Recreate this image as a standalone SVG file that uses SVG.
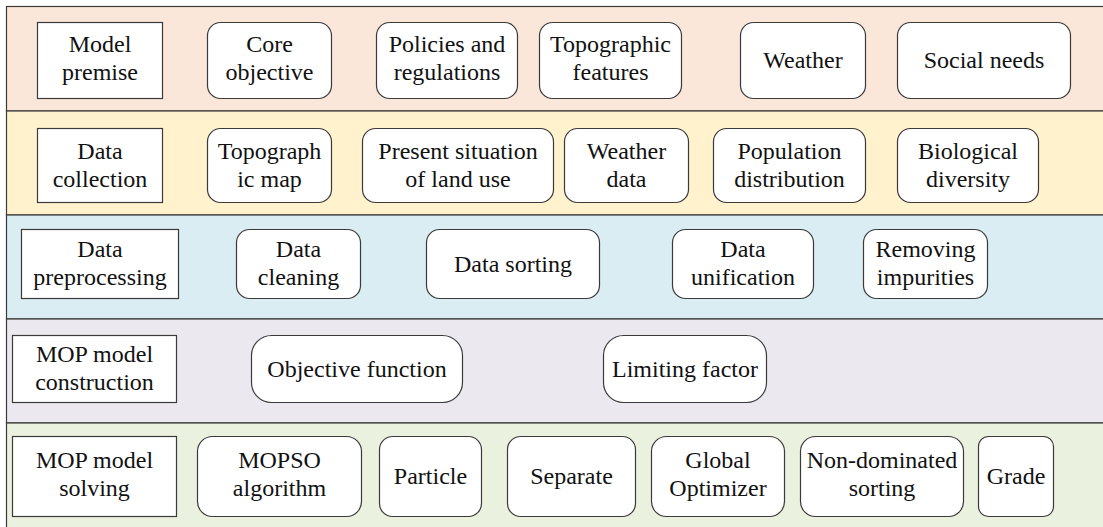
<svg xmlns="http://www.w3.org/2000/svg" width="1103" height="527" viewBox="0 0 1103 527">
  <style>
    .band { stroke: #3a3a3a; stroke-width: 1.2; }
    .box { fill: #ffffff; stroke: #3a3a3a; stroke-width: 1.2; }
    text { font-family: "Liberation Serif", "Times New Roman", serif; font-size: 24px; fill: #111111; text-anchor: middle; }
  </style>

  <!-- Layer bands -->
  <g id="bands">
    <rect class="band" x="6.5" y="6.5" width="1110" height="104.5" fill="#fbe7da"/>
    <rect class="band" x="6.5" y="111" width="1110" height="104" fill="#fff2cd"/>
    <rect class="band" x="6.5" y="215" width="1110" height="104" fill="#daedf2"/>
    <rect class="band" x="6.5" y="319" width="1110" height="104" fill="#ebe8ef"/>
    <rect class="band" x="6.5" y="423" width="1110" height="120" fill="#ebf1df"/>
  </g>

  <!-- Connectors: none drawn in this layout -->
  <g id="connectors"></g>

  <!-- Layer 1: model premise -->
  <g id="model-premise">
    <rect class="box" x="37.5" y="22.5" width="125" height="76"/>
    <text x="100" y="52">Model</text>
    <text x="100" y="80">premise</text>
  </g>
  <g id="core-objective">
    <rect class="box" x="207.5" y="22.5" width="124" height="76" rx="13"/>
    <text x="269.5" y="52">Core</text>
    <text x="269.5" y="80">objective</text>
  </g>
  <g id="policies">
    <rect class="box" x="376.5" y="22.5" width="141" height="76" rx="13"/>
    <text x="447" y="52">Policies and</text>
    <text x="447" y="80">regulations</text>
  </g>
  <g id="topographic-features">
    <rect class="box" x="539.5" y="22.5" width="142" height="76" rx="13"/>
    <text x="610.5" y="52">Topographic</text>
    <text x="610.5" y="80">features</text>
  </g>
  <g id="weather">
    <rect class="box" x="740.5" y="22.5" width="125" height="76" rx="13"/>
    <text x="803" y="68">Weather</text>
  </g>
  <g id="social-needs">
    <rect class="box" x="897.5" y="22.5" width="173" height="76" rx="13"/>
    <text x="984" y="68">Social needs</text>
  </g>

  <!-- Layer 2: data collection -->
  <g id="data-collection">
    <rect class="box" x="37.5" y="128.5" width="125" height="74"/>
    <text x="100" y="159">Data</text>
    <text x="100" y="187">collection</text>
  </g>
  <g id="topographic-map">
    <rect class="box" x="207.5" y="128.5" width="124" height="74" rx="13"/>
    <text x="269.5" y="159">Topograph</text>
    <text x="269.5" y="187">ic map</text>
  </g>
  <g id="land-use">
    <rect class="box" x="362.5" y="128.5" width="191" height="74" rx="13"/>
    <text x="458" y="159">Present situation</text>
    <text x="458" y="187">of land use</text>
  </g>
  <g id="weather-data">
    <rect class="box" x="564.5" y="128.5" width="124" height="74" rx="13"/>
    <text x="626.5" y="159">Weather</text>
    <text x="626.5" y="187">data</text>
  </g>
  <g id="population">
    <rect class="box" x="713.5" y="128.5" width="152" height="74" rx="13"/>
    <text x="789.5" y="159">Population</text>
    <text x="789.5" y="187">distribution</text>
  </g>
  <g id="biodiversity">
    <rect class="box" x="897.5" y="128.5" width="141" height="74" rx="13"/>
    <text x="968" y="159">Biological</text>
    <text x="968" y="187">diversity</text>
  </g>

  <!-- Layer 3: data preprocessing -->
  <g id="data-preprocessing">
    <rect class="box" x="21.5" y="229.5" width="157" height="69"/>
    <text x="100" y="257">Data</text>
    <text x="100" y="285">preprocessing</text>
  </g>
  <g id="data-cleaning">
    <rect class="box" x="236.5" y="229.5" width="124" height="69" rx="13"/>
    <text x="298.5" y="257">Data</text>
    <text x="298.5" y="285">cleaning</text>
  </g>
  <g id="data-sorting">
    <rect class="box" x="426.5" y="229.5" width="173" height="69" rx="13"/>
    <text x="513" y="272">Data sorting</text>
  </g>
  <g id="data-unification">
    <rect class="box" x="672.5" y="229.5" width="141" height="69" rx="13"/>
    <text x="743" y="257">Data</text>
    <text x="743" y="285">unification</text>
  </g>
  <g id="removing-impurities">
    <rect class="box" x="863.5" y="229.5" width="124" height="69" rx="13"/>
    <text x="925.5" y="257">Removing</text>
    <text x="925.5" y="285">impurities</text>
  </g>

  <!-- Layer 4: MOP model construction -->
  <g id="mop-construction">
    <rect class="box" x="12.5" y="335.5" width="164" height="67"/>
    <text x="94.5" y="362">MOP model</text>
    <text x="94.5" y="390">construction</text>
  </g>
  <g id="objective-function">
    <rect class="box" x="251.5" y="335.5" width="211" height="67" rx="20"/>
    <text x="357" y="377">Objective function</text>
  </g>
  <g id="limiting-factor">
    <rect class="box" x="603.5" y="335.5" width="163" height="67" rx="20"/>
    <text x="685" y="377">Limiting factor</text>
  </g>

  <!-- Layer 5: MOP model solving -->
  <g id="mop-solving">
    <rect class="box" x="12.5" y="436.5" width="164" height="80"/>
    <text x="94.5" y="468">MOP model</text>
    <text x="94.5" y="496">solving</text>
  </g>
  <g id="mopso">
    <rect class="box" x="197.5" y="436.5" width="164" height="80" rx="15"/>
    <text x="279.5" y="468">MOPSO</text>
    <text x="279.5" y="496">algorithm</text>
  </g>
  <g id="particle">
    <rect class="box" x="379.5" y="436.5" width="102" height="80" rx="13"/>
    <text x="430.5" y="484">Particle</text>
  </g>
  <g id="separate">
    <rect class="box" x="507.5" y="436.5" width="128" height="80" rx="13"/>
    <text x="571.5" y="484">Separate</text>
  </g>
  <g id="global-optimizer">
    <rect class="box" x="651.5" y="436.5" width="133" height="80" rx="15"/>
    <text x="718" y="468">Global</text>
    <text x="718" y="496">Optimizer</text>
  </g>
  <g id="non-dominated">
    <rect class="box" x="800.5" y="436.5" width="163" height="80" rx="15"/>
    <text x="882" y="468">Non-dominated</text>
    <text x="882" y="496">sorting</text>
  </g>
  <g id="grade">
    <rect class="box" x="978.5" y="436.5" width="75" height="80" rx="10"/>
    <text x="1016" y="484">Grade</text>
  </g>
</svg>
